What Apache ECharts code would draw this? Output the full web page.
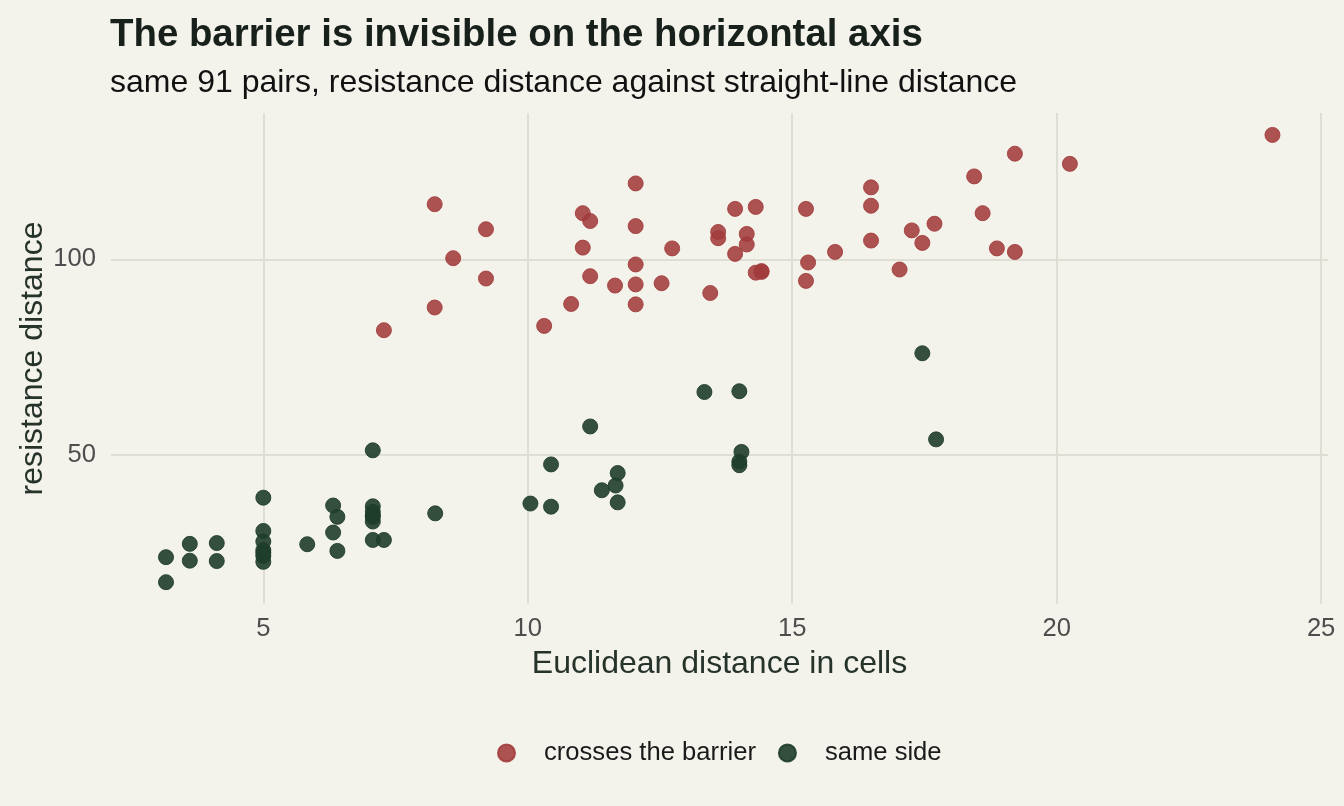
<!DOCTYPE html>
<html lang="en">
<head>
    <meta charset="UTF-8">
    <title>Resistance vs Euclidean distance</title>
</head>
<body>
<div id="main"></div>
</body>

<style type="text/css" media="screen">
    html, body {
        width: 100%;
        height: 100%;
        overflow: hidden;
        margin: 0;
        background: #f3f2eb;
        font-family: "Liberation Sans", Arial, Helvetica, sans-serif;
    }

    #main {
        width: 1344px;
        height: 806px;
    }
</style>
<script src="https://cdn.jsdelivr.net/npm/echarts@6/dist/echarts.min.js"></script>
<script>
    // pairs whose path crosses the barrier
    var crossX = [8.24, 9.21, 8.59, 9.21, 8.24, 7.28, 10.31, 12.04, 11.04, 11.18,
        12.04, 11.04, 12.73, 13.92, 14.31, 13.60, 13.60, 14.14, 14.14, 13.92,
        12.04, 11.18, 11.65, 12.04, 12.53, 12.04, 10.82, 13.45, 14.31, 14.42,
        15.26, 15.30, 15.26, 15.81, 16.49, 16.49, 16.49, 17.03, 17.26, 17.46,
        17.69, 18.44, 18.60, 19.21, 18.87, 19.21, 20.25, 24.08, 14.42];
    var crossY = [114.1, 107.7, 100.3, 95.1, 87.7, 81.9, 83.0, 119.4, 111.8, 109.8,
        108.5, 103.0, 102.8, 112.9, 113.4, 107.0, 105.4, 106.5, 103.8, 101.4,
        98.7, 95.7, 93.3, 93.6, 93.9, 88.5, 88.6, 91.4, 96.6, 97.0,
        112.9, 99.2, 94.5, 101.9, 118.4, 113.7, 104.8, 97.4, 107.4, 104.2,
        109.1, 121.2, 111.8, 127.0, 102.8, 101.9, 124.4, 131.8, 96.8];

    // pairs on the same side
    var sameX = [3.16, 3.16, 3.61, 3.61, 4.12, 4.12, 5, 5, 5, 5,
        5, 5, 5, 5.83, 6.32, 6.40, 6.32, 6.40, 7.07, 7.07,
        7.07, 7.07, 7.07, 7.07, 7.28, 8.25, 10.05, 10.44, 10.44, 11.18,
        11.70, 11.66, 11.40, 11.70, 13.34, 14.00, 14.04, 14.00, 14.00, 17.46,
        17.72, 7.07];
    var sameY = [17.5, 23.9, 27.3, 23.0, 27.5, 22.9, 39.1, 30.6, 27.9, 25.7,
        24.2, 22.7, 25.0, 27.2, 37.1, 34.2, 30.2, 25.5, 51.2, 36.9,
        35.5, 34.2, 33.0, 28.3, 28.3, 35.1, 37.6, 36.8, 47.6, 57.3,
        45.4, 42.2, 41.0, 37.9, 66.1, 66.3, 50.8, 48.3, 47.4, 76.0,
        54.0, 34.6];

    var xTicks = [5, 10, 15, 20, 25];
    var yTicks = [50, 100];

    function pairs(xs, ys) {
        return xs.map(function (x, i) {
            return [x, ys[i]];
        });
    }

    var myChart = echarts.init(document.getElementById('main'));
    var font = '"Liberation Sans", Arial, Helvetica, sans-serif';
    var gridColor = '#dfded4';

    var option = {
        backgroundColor: '#f3f2eb',
        textStyle: {fontFamily: font},
        title: {
            text: 'The barrier is invisible on the horizontal axis',
            subtext: 'same 91 pairs, resistance distance against straight-line distance',
            left: 105,
            top: 8,
            itemGap: 7,
            textStyle: {
                fontSize: 38.4,
                fontWeight: 'bold',
                color: '#17201b',
                lineHeight: 44,
                fontFamily: font
            },
            subtextStyle: {
                fontSize: 32,
                color: '#111111',
                lineHeight: 38,
                fontFamily: font
            }
        },
        legend: {
            data: ['crosses the barrier', 'same side'],
            left: 492,
            top: 735,
            icon: 'circle',
            itemWidth: 17,
            itemHeight: 17,
            itemGap: 22,
            textStyle: {
                fontSize: 25.6,
                color: '#1a1a1a',
                padding: [0, 0, 0, 24],
                fontFamily: font
            }
        },
        grid: {
            left: 111,
            right: 16,
            top: 113,
            bottom: 202
        },
        xAxis: {
            type: 'value',
            min: 2.12,
            max: 25.13,
            name: 'Euclidean distance in cells',
            nameLocation: 'middle',
            nameGap: 44,
            nameTextStyle: {fontSize: 32, color: '#26332b', fontFamily: font},
            axisLine: {show: false},
            axisTick: {show: false, customValues: xTicks},
            axisLabel: {
                customValues: xTicks,
                fontSize: 25.6,
                color: '#4d4d4d',
                margin: 12,
                fontFamily: font
            },
            splitLine: {lineStyle: {color: gridColor, width: 2}}
        },
        yAxis: {
            type: 'value',
            min: 11.93,
            max: 137.4,
            name: 'resistance distance',
            nameLocation: 'middle',
            nameGap: 62,
            nameMoveOverlap: false,
            nameTextStyle: {fontSize: 32, color: '#26332b', fontFamily: font},
            axisLine: {show: false},
            axisTick: {show: false, customValues: yTicks},
            axisLabel: {
                customValues: yTicks,
                fontSize: 25.6,
                color: '#4d4d4d',
                margin: 15,
                fontFamily: font
            },
            splitLine: {lineStyle: {color: gridColor, width: 2}}
        },
        series: [{
            name: 'crosses the barrier',
            type: 'scatter',
            symbolSize: 15,
            data: pairs(crossX, crossY),
            itemStyle: {
                color: '#a23b3b',
                borderColor: '#a23b3b',
                borderWidth: 1,
                opacity: 0.88
            }
        }, {
            name: 'same side',
            type: 'scatter',
            symbolSize: 15,
            data: pairs(sameX, sameY),
            itemStyle: {
                color: '#1f3d2b',
                borderColor: '#1f3d2b',
                borderWidth: 1,
                opacity: 0.9
            }
        }]
    };
    myChart.setOption(option);
</script>
</html>
